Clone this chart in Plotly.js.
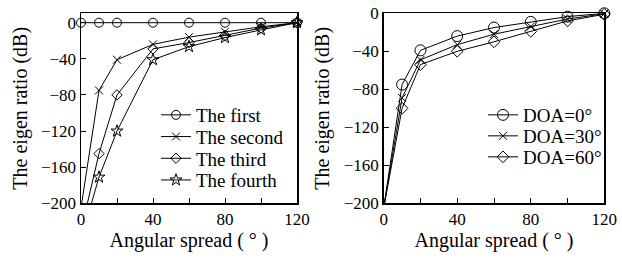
<!DOCTYPE html>
<html>
<head>
<meta charset="utf-8">
<script src="https://cdn.plot.ly/plotly-3.0.1.min.js"></script>
</head>
<body style="margin:0;background:#fff">
<div id="chart" style="width:622px;height:258px"></div>
<script>
// ---- data ----
const spread = [0, 10, 20, 40, 60, 80, 100, 120];

// Left panel: eigen ratio of each eigenvalue (dB)
const leftNames = ["The first", "The second", "The third", "The fourth"];
const firstEig  = [0, 0, 0, 0, 0, 0, 0, 0];
const secondEig = [-205, -75, -41, -24, -16, -10, -4.5, 0];
const thirdEig  = [-230, -145, -80, -29, -22, -14, -6, 0];
const fourthEig = [-240, -171, -120, -41, -26.5, -16.5, -8, 0];

// Right panel: eigen ratio for different DOA (dB)
const rightNames = ["DOA=0°", "DOA=30°", "DOA=60°"];
const doa0  = [-205, -75, -39, -24, -15, -9, -3.5, 0];
const doa30 = [-205, -89, -49, -33, -22, -14, -6, -0.5];
const doa60 = [-205, -100, -54, -40, -30, -19, -8, -1];

// ---- styling ----
const SERIF = "Times New Roman";
const leftSeries = [firstEig, secondEig, thirdEig, fourthEig];
const leftSymbols = ["circle-open", "x-thin-open", "diamond-open", "star-open"];
const leftSizes = [9, 8, 8, 9];
const rightSeries = [doa0, doa30, doa60];
const rightSymbols = ["circle-open", "x-thin-open", "diamond-open"];
const rightSizes = [11, 8, 9];

const traces = [];
leftSeries.forEach((ys, i) => {
  traces.push({
    x: spread, y: ys, name: leftNames[i], type: "scatter", mode: "lines+markers",
    xaxis: "x", yaxis: "y", legend: "legend", cliponaxis: false,
    line: {color: "#000", width: 1},
    marker: {symbol: leftSymbols[i], size: leftSizes[i], color: "#000", line: {color: "#000", width: 1}}
  });
});
rightSeries.forEach((ys, i) => {
  traces.push({
    x: spread, y: ys, name: rightNames[i], type: "scatter", mode: "lines+markers",
    xaxis: "x2", yaxis: "y2", legend: "legend2", cliponaxis: false,
    line: {color: "#000", width: 1},
    marker: {symbol: rightSymbols[i], size: rightSizes[i], color: "#000", line: {color: "#000", width: 1}}
  });
});

function xax(domain, anchor) {
  return {
    domain: domain, anchor: anchor, range: [0, 120], dtick: 40, tick0: 0,
    showline: true, mirror: true, linecolor: "#000", linewidth: 1.5,
    ticks: "inside", ticklen: 5, tickcolor: "#000", tickwidth: 1,
    minor: {dtick: 20, ticks: "inside", ticklen: 5, tickcolor: "#000", tickwidth: 1},
    showgrid: false, zeroline: false,
    tickfont: {family: SERIF, size: 17, color: "#000"},
    title: {text: "Angular spread ( ° )", font: {family: SERIF, size: 20, color: "#000"}, standoff: 4},
    automargin: false
  };
}
function yax(domain, anchor, range, standoff) {
  return {
    domain: domain, anchor: anchor, range: range, tickvals: [0, -40, -80, -120, -160, -200],
    showline: true, mirror: true, linecolor: "#000", linewidth: 1.5,
    ticks: "inside", ticklen: 5, tickcolor: "#000", tickwidth: 1,
    showgrid: false, zeroline: false,
    tickfont: {family: SERIF, size: 17, color: "#000"},
    title: {text: "The eigen ratio (dB)", font: {family: SERIF, size: 20, color: "#000"}, standoff: standoff},
    automargin: false
  };
}

const yDom = [1 - 203.3 / 258, 1 - 13.3 / 258];
const layout = {
  width: 622, height: 258,
  margin: {l: 0, r: 0, t: 0, b: 0},
  paper_bgcolor: "#fff", plot_bgcolor: "#fff",
  xaxis: xax([81 / 622, 297 / 622], "y"),
  yaxis: yax(yDom, "x", [-200, 10.4], 8),
  xaxis2: xax([383.7 / 622, 604.3 / 622], "y2"),
  yaxis2: yax(yDom, "x2", [-200, 0], 8),
  legend: {
    x: 156 / 622, y: 1 - 96 / 258, xanchor: "left", yanchor: "top",
    bgcolor: "rgba(0,0,0,0)", borderwidth: 0,
    font: {family: SERIF, size: 19, color: "#000"}
  },
  legend2: {
    x: 483 / 622, y: 1 - 96 / 258, xanchor: "left", yanchor: "top",
    bgcolor: "rgba(0,0,0,0)", borderwidth: 0,
    font: {family: SERIF, size: 19, color: "#000"}
  },
  showlegend: true
};

// legend rows in the reference are packed tighter than Plotly's default line spacing
const legendRowStep = {legend: 21.7, legend2: 21};

Plotly.newPlot("chart", traces, layout, {displayModeBar: false, staticPlot: true}).then(gd => {
  Object.keys(legendRowStep).forEach(name => {
    const items = gd.querySelectorAll("g." + name + " g.traces");
    if (!items.length) return;
    const m0 = /translate\(([-\d.]+),\s*([-\d.]+)\)/.exec(items[0].getAttribute("transform") || "");
    if (!m0) return;
    const x0 = parseFloat(m0[1]), y0 = parseFloat(m0[2]);
    items.forEach((it, i) => {
      it.setAttribute("transform", "translate(" + x0 + "," + (y0 + i * legendRowStep[name]) + ")");
    });
  });
});
</script>
</body>
</html>
